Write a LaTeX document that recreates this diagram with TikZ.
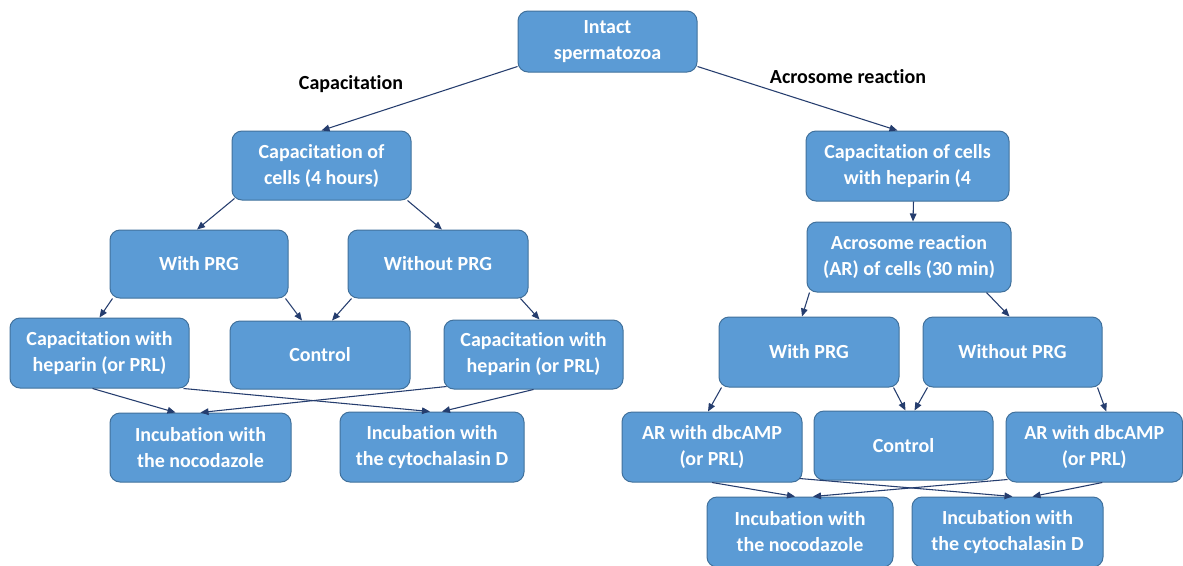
\documentclass[tikz,border=0pt]{standalone}
\usepackage{fontspec}
\setmainfont{Carlito}[Ligatures={NoCommon}]
\usetikzlibrary{calc,arrows.meta}
\definecolor{boxfill}{HTML}{5B9BD5}
\definecolor{boxline}{HTML}{41719C}
\definecolor{arrowcol}{HTML}{253D6E}
\tikzset{
  box/.style={draw=boxline, line width=0.75pt, fill=boxfill, rounded corners=7.5pt,
    text=white, font=\fontsize{15pt}{19.5pt}\selectfont\bfseries, align=center,
    inner sep=0pt, anchor=center},
  lbl/.style={text=black, font=\fontsize{15pt}{19.5pt}\selectfont\bfseries, inner sep=0pt},
  conn/.style={draw=arrowcol, line width=0.8pt, -{Triangle[length=6pt,width=5pt]}},
}
% \bx{name}{left}{top}{right}{bottom}{text}  (pixels)
\newcommand{\bx}[6]{%
  \pgfmathsetmacro{\cxx}{(#2+#4)/2}%
  \pgfmathsetmacro{\cyy}{(#3+#5)/2}%
  \pgfmathsetmacro{\ww}{(#4-#2)*0.75}%
  \pgfmathsetmacro{\hh}{(#5-#3)*0.75}%
  \node[box, minimum width=\ww pt, minimum height=\hh pt] (#1) at (\cxx,\cyy) {#6};%
}
\begin{document}
\begin{tikzpicture}[x=0.75pt,y=-0.75pt]
\useasboundingbox (0,0) rectangle (1183,565);
\fill[white] (0,0) rectangle (1183,565);
\begin{scope}
\clip (0,0) rectangle (1183,565);
\bx{intact}{518}{11}{697}{72}{Intact\\spermatozoa}
\bx{capL}{232}{131}{411}{200}{Capacitation of\\cells (4 hours)}
\bx{capR}{806}{131}{1009}{201}{Capacitation of cells\\with heparin (4}
\bx{arR}{807}{222}{1011}{292}{Acrosome reaction\\(AR) of cells (30 min)}
\bx{withL}{110}{230}{288}{298}{With PRG}
\bx{withoutL}{348}{230}{528}{298}{Without PRG}
\bx{capHepL}{10}{318}{189}{388}{Capacitation with\\heparin (or PRL)}
\bx{controlL}{230}{321}{410}{389}{Control}
\bx{capHepR}{444}{320}{623}{389}{Capacitation with\\heparin (or PRL)}
\bx{nocL}{110}{413}{291}{482}{Incubation with\\the nocodazole}
\bx{cytoL}{340}{412}{524}{482}{Incubation with\\the cytochalasin D}
\bx{withR}{719}{317}{899}{387}{With PRG}
\bx{withoutR}{923}{317}{1102}{387}{Without PRG}
\bx{arL}{622}{412}{802}{482}{AR with dbcAMP\\(or PRL)}
\bx{controlR}{814}{411}{993}{480}{Control}
\bx{arRR}{1006}{412}{1182.5}{482}{AR with dbcAMP\\(or PRL)}
\bx{nocR}{707}{497}{893}{567}{Incubation with\\the nocodazole}
\bx{cytoR}{912}{497}{1103}{567}{Incubation with\\the cytochalasin D}
\end{scope}

\node[lbl] (lblcap) at (351,84) {Capacitation};
\node[lbl] (lblar) at (848,77) {Acrosome reaction};

\draw[conn] ($(intact.south west)+(0,-6)$) -- (capL.north);
\draw[conn] ($(intact.south east)+(0,-6)$) -- ($(capR.north)+(-10,0)$);
\draw[conn] ($(capL.south west)+(3,-2)$) -- ($(withL.north)+(-2,0)$);
\draw[conn] ($(capL.south east)+(-4,0)$) -- ($(withoutL.north)+(4,0)$);
\draw[conn] ($(withL.south west)+(3,0)$) -- (capHepL.north);
\draw[conn] ($(withL.south east)+(-3,0)$) -- ($(controlL.north)+(-18,0)$);
\draw[conn] ($(withoutL.south west)+(4,0)$) -- ($(controlL.north)+(12,0)$);
\draw[conn] ($(withoutL.south east)+(-8,0)$) -- ($(capHepR.north)+(6,0)$);
\draw[conn] ($(capHepL.south)+(-7,0)$) -- ($(nocL.north)+(-25,0)$);
\draw[conn] ($(capHepL.south east)+(-6,0)$) -- ($(cytoL.north)+(-2,0)$);
\draw[conn] ($(capHepR.south west)+(3,-3)$) -- (nocL.north);
\draw[conn] (capHepR.south) -- ($(cytoL.north)+(10,0)$);
\draw[conn] ($(capR.south)+(6,0)$) -- ($(arR.north)+(4,0)$);
\draw[conn] ($(arR.south west)+(3,0)$) -- ($(withR.north)+(-7,0)$);
\draw[conn] ($(arR.south east)+(-25,0)$) -- ($(withoutR.north)+(-3,0)$);
\draw[conn] ($(withR.south west)+(3,0)$) -- ($(arL.north)+(-4,0)$);
\draw[conn] ($(withR.south east)+(-6,0)$) -- ($(controlR.north)+(2,0)$);
\draw[conn] ($(withoutR.south west)+(5,0)$) -- ($(controlR.north)+(11,0)$);
\draw[conn] ($(withoutR.south east)+(-5,0)$) -- ($(arRR.north)+(12,0)$);
\draw[conn] (arL.south) -- ($(nocR.north)+(-5,0)$);
\draw[conn] ($(arL.south east)+(-3,-4)$) -- ($(cytoR.north)+(5,0)$);
\draw[conn] ($(arRR.south west)+(2,-3)$) -- ($(nocR.north)+(13,0)$);
\draw[conn] ($(arRR.south)+(8,0)$) -- ($(cytoR.north)+(25,0)$);
\end{tikzpicture}
\end{document}
